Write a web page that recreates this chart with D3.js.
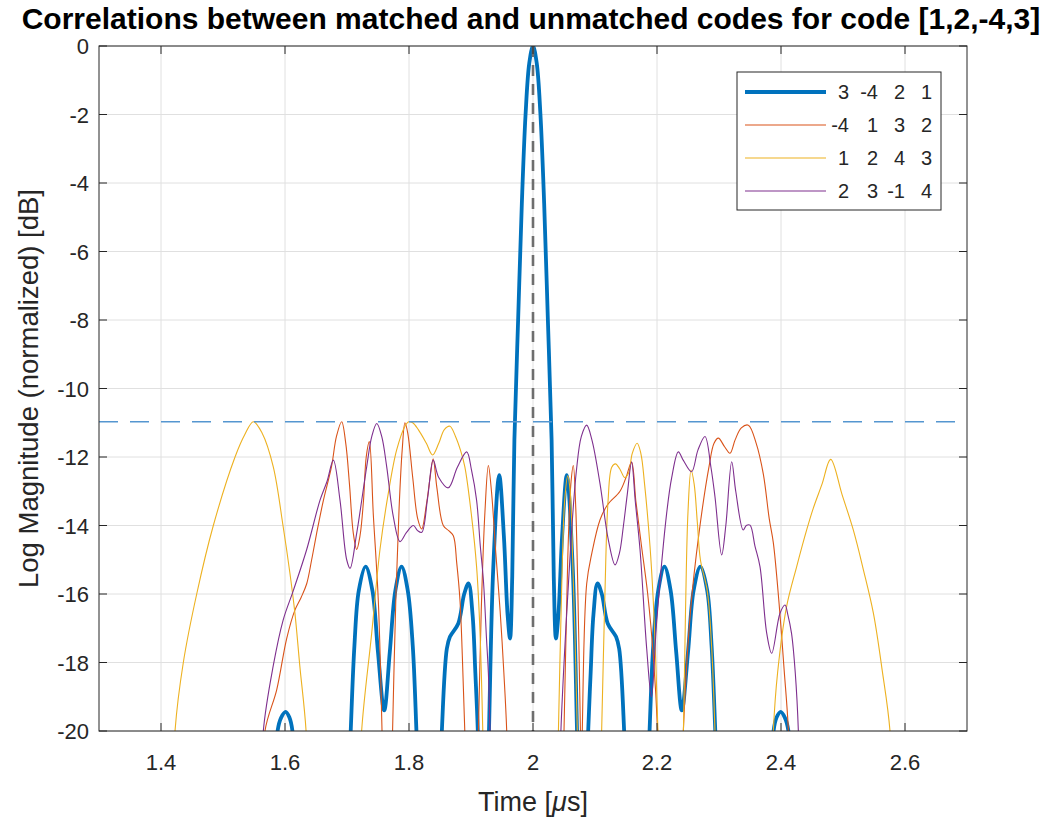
<!DOCTYPE html>
<html>
<head>
<meta charset="utf-8">
<script src="https://cdn.jsdelivr.net/npm/d3@7/dist/d3.min.js"></script>
<style>
  body { margin: 0; background: #fff; }
  text { font-family: 'Liberation Sans', Arial, Helvetica, sans-serif; fill: #262626; }
</style>
</head>
<body>
<svg id="chart" width="1047" height="821"></svg>
<script>
// tick values
const xTicks = [1.4, 1.6, 1.8, 2.0, 2.2, 2.4, 2.6]
const yTicks = [0, -2, -4, -6, -8, -10, -12, -14, -16, -18, -20]
const xDomain = [1.3, 2.7]
const yDomain = [-20, 0]

// reference lines
const thresholdDb = -10.97
const peakTime = 2.0

// legend codes
const legendCodes = [[3, -4, 2, 1], [-4, 1, 3, 2], [1, 2, 4, 3], [2, 3, -1, 4]]

// [time us, dB] (below -20 is clipped)
const corr3421 = [
  [1.582, -23], [1.588, -20], [1.594, -19.6], [1.601, -19.44], [1.607, -19.6], [1.612, -20], [1.618, -23],
  [1.700, -23], [1.706, -20], [1.712, -17.5], [1.719, -15.9], [1.730, -15.2], [1.741, -15.9], [1.750, -17.7],
  [1.760, -19.4], [1.769, -17.7], [1.778, -15.9], [1.788, -15.2], [1.798, -15.9], [1.806, -17.5], [1.812, -20], [1.818, -23],
  [1.848, -23], [1.853, -20], [1.861, -17.6], [1.866, -17.25], [1.8795, -16.86], [1.889, -16.0], [1.896, -15.69],
  [1.9025, -16.6], [1.907, -18.3], [1.911, -20], [1.915, -23],
  [1.924, -24], [1.929, -20], [1.936, -15.2], [1.9455, -12.53], [1.953, -14.3], [1.959, -16.6], [1.963, -17.3],
  [1.9665, -15.5], [1.970, -11.5], [1.976, -8], [1.982, -4.6], [1.988, -2], [1.994, -0.5], [2.0, 0],
  [2.006, -0.5], [2.012, -2], [2.018, -4.6], [2.024, -8], [2.030, -11.5], [2.0335, -15.5], [2.037, -17.3],
  [2.041, -16.6], [2.047, -14.3], [2.0545, -12.53], [2.064, -15.2], [2.071, -20], [2.076, -24],
  [2.084, -23], [2.089, -20], [2.093, -18.3], [2.0975, -16.6], [2.104, -15.69], [2.111, -16.0], [2.1205, -16.86],
  [2.134, -17.25], [2.139, -17.6], [2.147, -20], [2.152, -23],
  [2.182, -23], [2.188, -20], [2.194, -17.5], [2.202, -15.9], [2.212, -15.2], [2.222, -15.9], [2.231, -17.7],
  [2.240, -19.4], [2.250, -17.7], [2.259, -15.9], [2.270, -15.2], [2.281, -15.9], [2.288, -17.5], [2.294, -20], [2.300, -23],
  [2.382, -23], [2.388, -20], [2.393, -19.6], [2.3995, -19.44], [2.406, -19.6], [2.412, -20], [2.418, -23]
]

const corrM4132 = [
  [1.562, -23], [1.5677, -20], [1.5866, -18.8], [1.6027, -17.3], [1.616, -16.47], [1.626, -16.1], [1.635, -15.7],
  [1.643, -15.0], [1.651, -14.23], [1.662, -13.26], [1.675, -12.28], [1.683, -11.4], [1.6914, -10.97], [1.698, -11.6],
  [1.704, -12.8], [1.710, -14.2], [1.7156, -14.7], [1.721, -14.3], [1.7265, -13.3], [1.731, -12.0], [1.736, -11.55],
  [1.7425, -13.7], [1.7505, -16.2], [1.7565, -20], [1.760, -23], [1.770, -23], [1.7735, -20], [1.779, -16],
  [1.784, -13.5], [1.789, -11.8], [1.7935, -11.0], [1.798, -11.3], [1.806, -12.6], [1.814, -13.8], [1.8205, -14.1],
  [1.828, -13.4], [1.834, -12.6], [1.839, -12.05], [1.845, -12.9], [1.8553, -14.0], [1.864, -14.15], [1.8715, -14.3],
  [1.877, -15.1], [1.8823, -16.2], [1.886, -17.8], [1.890, -20], [1.894, -23],
  [1.908, -23], [1.912, -20], [1.9165, -16.5], [1.9225, -13.6], [1.928, -12.25], [1.933, -13], [1.940, -14.8],
  [1.947, -16.5], [1.953, -18.3], [1.9576, -20], [1.961, -23],
  [2.045, -23], [2.050, -20], [2.056, -15], [2.061, -12.8], [2.065, -12.25], [2.069, -13.5], [2.0735, -17],
  [2.0765, -20], [2.078, -22], [2.0795, -20], [2.0866, -15.7], [2.095, -14.8], [2.108, -13.84], [2.120, -13.4],
  [2.1403, -13.0], [2.150, -12.6], [2.159, -12.15], [2.166, -13.3], [2.175, -14.6], [2.185, -16.0], [2.194, -17.8],
  [2.201, -20], [2.205, -23],
  [2.238, -23], [2.2425, -20], [2.254, -16.5], [2.2677, -14.23], [2.2839, -12.28], [2.292, -11.6], [2.299, -11.45],
  [2.309, -11.7], [2.3177, -11.89], [2.326, -11.5], [2.336, -11.15], [2.3473, -11.07], [2.360, -11.6], [2.3715, -12.5],
  [2.381, -13.8], [2.3876, -14.5], [2.397, -16.3], [2.405, -18.2], [2.412, -20], [2.416, -23]
]

const corr1243 = [
  [1.418, -23], [1.4226, -20], [1.436, -18.0], [1.4576, -16.0], [1.4844, -14.0], [1.5194, -12.0], [1.535, -11.35],
  [1.549, -10.97], [1.563, -11.3], [1.581, -12.28], [1.597, -14.03], [1.608, -15.4], [1.616, -16.56], [1.624, -18.12],
  [1.634, -20], [1.639, -23],
  [1.718, -23], [1.7236, -20], [1.7398, -17.15], [1.7532, -14.7], [1.7666, -13.06], [1.780, -11.8], [1.7935, -11.1],
  [1.7995, -10.97], [1.806, -11.0], [1.815, -11.2], [1.828, -11.6], [1.838, -11.94], [1.848, -11.6], [1.857, -11.2],
  [1.866, -11.1], [1.875, -11.4], [1.883, -11.8], [1.890, -12.28], [1.901, -13.74], [1.909, -15.2], [1.9145, -17.1],
  [1.919, -20], [1.922, -23],
  [2.037, -23], [2.041, -20], [2.046, -16], [2.051, -13.3], [2.056, -12.55], [2.060, -13.0], [2.064, -15.0],
  [2.068, -17.4], [2.0715, -20], [2.075, -23],
  [2.106, -23], [2.1107, -20], [2.116, -16], [2.121, -13.3], [2.127, -12.3], [2.133, -12.2], [2.140, -12.35],
  [2.148, -12.6], [2.1545, -12.45], [2.160, -11.9], [2.168, -11.6], [2.174, -11.9], [2.180, -12.8], [2.1887, -14.6],
  [2.194, -16.2], [2.198, -18.0], [2.2015, -20], [2.205, -23],
  [2.238, -23], [2.2426, -20], [2.246, -16.5], [2.250, -13.6], [2.255, -12.38], [2.260, -12.8], [2.265, -13.9],
  [2.270, -15.0], [2.281, -15.9], [2.288, -17.5], [2.2935, -20], [2.298, -23],
  [2.383, -23], [2.3876, -20], [2.3945, -18.3], [2.409, -16.37], [2.4253, -15.2], [2.4414, -14.13], [2.452, -13.5],
  [2.466, -12.8], [2.4801, -12.07], [2.4985, -13.1], [2.5166, -14.13], [2.533, -15.3], [2.549, -16.56], [2.563, -18.2],
  [2.5758, -20], [2.581, -23]
]

const corr23M14 = [
  [1.560, -23], [1.565, -20], [1.581, -18.1], [1.597, -16.76], [1.6134, -15.9], [1.635, -14.7], [1.6565, -13.26],
  [1.668, -12.7], [1.678, -12.09], [1.6887, -13.26], [1.6995, -15.0], [1.705, -15.25], [1.7156, -14.23], [1.7318, -12.28],
  [1.740, -11.4], [1.748, -11.02], [1.756, -11.4], [1.764, -12.28], [1.7747, -13.74], [1.7855, -14.47], [1.796, -14.2],
  [1.807, -14.0], [1.814, -14.15], [1.8205, -14.2], [1.830, -13.2], [1.839, -12.09], [1.848, -12.6], [1.8634, -12.9],
  [1.878, -12.3], [1.893, -11.85], [1.901, -12.4], [1.909, -13.26], [1.915, -14.6], [1.920, -15.6], [1.925, -17.3],
  [1.928, -18.3], [1.9306, -20], [1.933, -23],
  [2.041, -23], [2.045, -20], [2.053, -17], [2.061, -14.5], [2.070, -12.4], [2.078, -11.4], [2.0866, -11.07],
  [2.095, -11.5], [2.108, -12.77], [2.1215, -14.42], [2.1323, -15.15], [2.1395, -14.8], [2.1457, -14.03], [2.152, -13.1],
  [2.159, -12.15], [2.165, -13.3], [2.1726, -14.7], [2.1834, -17.6], [2.191, -19.0], [2.1995, -16.8], [2.2156, -13.64],
  [2.2237, -12.6], [2.2344, -11.85], [2.2425, -12.1], [2.2558, -12.43], [2.266, -11.8], [2.2774, -11.4], [2.287, -12.3],
  [2.2935, -13.16], [2.3043, -14.86], [2.311, -14.0], [2.3205, -12.14], [2.327, -13.0], [2.339, -14.13], [2.344, -14.0],
  [2.350, -13.99], [2.358, -14.6], [2.3661, -15.2], [2.377, -17.15], [2.385, -17.73], [2.3984, -16.56], [2.4065, -16.32],
  [2.411, -16.6], [2.417, -17.15], [2.423, -18.3], [2.428, -20], [2.431, -23]
]

const series = [
  { data: corr3421, color: '#0072BD', width: 3.8 },
  { data: corrM4132, color: '#D95319', width: 1.1 },
  { data: corr1243, color: '#EDB120', width: 1.1 },
  { data: corr23M14, color: '#7E2F8E', width: 1.1 }
]

const svg = d3.select('#chart')
const plotLeft = 99
const plotRight = 967
const plotTop = 46
const plotBottom = 731

const x = d3.scaleLinear().domain(xDomain).range([plotLeft, plotRight])
const y = d3.scaleLinear().domain(yDomain).range([plotBottom, plotTop])

svg.append('rect').attr('width', 1047).attr('height', 821).attr('fill', '#fff')

svg.append('defs').append('clipPath').attr('id', 'plotClip')
  .append('rect')
  .attr('x', plotLeft).attr('y', plotTop)
  .attr('width', plotRight - plotLeft).attr('height', plotBottom - plotTop)

// grid
const grid = svg.append('g').attr('stroke', '#e0e0e0').attr('stroke-width', 1)
grid.selectAll('.gx').data(xTicks).enter().append('line')
  .attr('x1', d => x(d)).attr('x2', d => x(d))
  .attr('y1', plotTop).attr('y2', plotBottom)
grid.selectAll('.gy').data(yTicks).enter().append('line')
  .attr('x1', plotLeft).attr('x2', plotRight)
  .attr('y1', d => y(d)).attr('y2', d => y(d))

// curves
const line = d3.line()
  .x(d => x(d[0]))
  .y(d => y(d[1]))
  .curve(d3.curveCatmullRom.alpha(0.5))

const plot = svg.append('g').attr('clip-path', 'url(#plotClip)')
series.forEach(s => {
  plot.append('path')
    .attr('d', line(s.data))
    .attr('fill', 'none')
    .attr('stroke', s.color)
    .attr('stroke-width', s.width)
    .attr('stroke-linejoin', 'round')
})

// threshold and peak markers
plot.append('line')
  .attr('x1', plotLeft).attr('x2', plotRight)
  .attr('y1', y(thresholdDb)).attr('y2', y(thresholdDb))
  .attr('stroke', '#5596d0')
  .attr('stroke-width', 1.6)
  .attr('stroke-dasharray', '19,12')
plot.append('line')
  .attr('x1', x(peakTime)).attr('x2', x(peakTime))
  .attr('y1', y(0)).attr('y2', y(-20))
  .attr('stroke', '#6e6e6e')
  .attr('stroke-width', 2.6)
  .attr('stroke-dasharray', '11,8')

// axes box and ticks (inside, on all sides)
const axis = svg.append('g').attr('stroke', '#262626').attr('stroke-width', 1)
axis.append('rect')
  .attr('x', plotLeft).attr('y', plotTop)
  .attr('width', plotRight - plotLeft).attr('height', plotBottom - plotTop)
  .attr('fill', 'none')
const tickLen = 8
xTicks.forEach(t => {
  axis.append('line').attr('x1', x(t)).attr('x2', x(t)).attr('y1', plotBottom).attr('y2', plotBottom - tickLen)
  axis.append('line').attr('x1', x(t)).attr('x2', x(t)).attr('y1', plotTop).attr('y2', plotTop + tickLen)
})
yTicks.forEach(v => {
  axis.append('line').attr('x1', plotLeft).attr('x2', plotLeft + tickLen).attr('y1', y(v)).attr('y2', y(v))
  axis.append('line').attr('x1', plotRight).attr('x2', plotRight - tickLen).attr('y1', y(v)).attr('y2', y(v))
})

// tick labels
svg.selectAll('.xl').data(xTicks).enter().append('text')
  .attr('x', d => x(d)).attr('y', 770)
  .attr('text-anchor', 'middle')
  .style('font-size', '22px')
  .text(d => d3.format('~g')(d))
svg.selectAll('.yl').data(yTicks).enter().append('text')
  .attr('x', 89).attr('y', d => y(d) + 8)
  .attr('text-anchor', 'end')
  .style('font-size', '22px')
  .text(d => d)

// axis titles
const xlab = svg.append('text')
  .attr('x', (plotLeft + plotRight) / 2).attr('y', 811)
  .attr('text-anchor', 'middle')
  .style('font-size', '27px')
xlab.append('tspan').text('Time [')
xlab.append('tspan').style('font-style', 'italic').text('\u03bc')
xlab.append('tspan').text('s]')

svg.append('text')
  .attr('transform', `translate(38,${(plotTop + plotBottom) / 2}) rotate(-90)`)
  .attr('text-anchor', 'middle')
  .style('font-size', '27.5px')
  .text('Log Magnitude (normalized) [dB]')

svg.append('text')
  .attr('x', 531).attr('y', 29)
  .attr('text-anchor', 'middle')
  .style('font-size', '30px')
  .style('font-weight', 'bold')
  .style('fill', '#000')
  .text('Correlations between matched and unmatched codes for code [1,2,-4,3]')

// legend
const legend = svg.append('g')
legend.append('rect')
  .attr('x', 737).attr('y', 72)
  .attr('width', 204).attr('height', 138)
  .attr('fill', '#fff')
  .attr('stroke', '#262626')
  .attr('stroke-width', 1)
const colRight = [849, 878, 905, 932]
legendCodes.forEach((code, i) => {
  const ly = 92 + i * 33
  legend.append('line')
    .attr('x1', 745).attr('x2', 826)
    .attr('y1', ly).attr('y2', ly)
    .attr('stroke', series[i].color)
    .attr('stroke-width', series[i].width)
  code.forEach((c, j) => {
    legend.append('text')
      .attr('x', colRight[j]).attr('y', ly + 7)
      .attr('text-anchor', 'end')
      .style('font-size', '20px')
      .text(c)
  })
})
</script>
</body>
</html>
